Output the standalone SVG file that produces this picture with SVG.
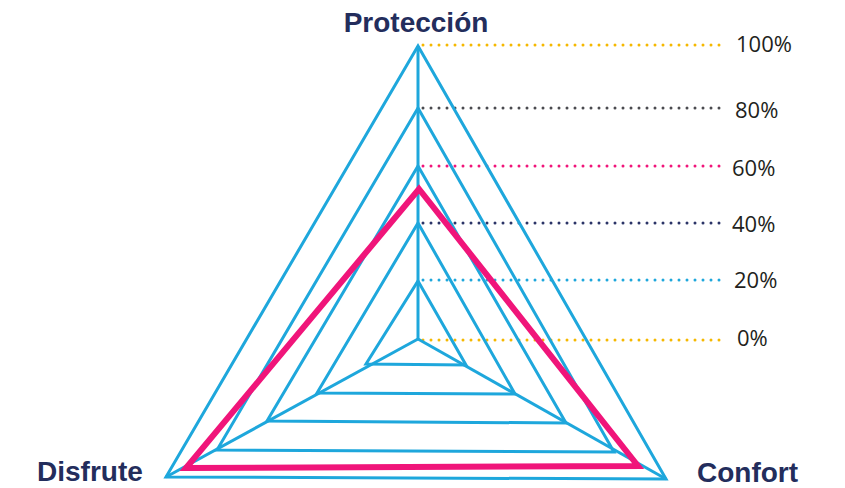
<svg xmlns="http://www.w3.org/2000/svg" width="845" height="488" viewBox="0 0 845 488">
<style>
.ring{fill:none;stroke:#1ea7dc;stroke-width:3;stroke-linejoin:miter}
.axis{fill:none;stroke:#1ea7dc;stroke-width:3}
.dot{fill:none;stroke-width:3;stroke-linecap:round;stroke-dasharray:0 8}
.pct{font-family:"Open Sans","Liberation Sans",sans-serif;font-size:22px;fill:#231f20}
.ttl{font-family:"Liberation Sans",Arial,sans-serif;font-weight:bold;font-size:28px;fill:#232d5c}
</style>
<rect width="845" height="488" fill="#ffffff"/>
<g id="gridlines">
<line class="dot" x1="423" y1="45" x2="727" y2="45" stroke="#f5b800"/>
<line class="dot" x1="423" y1="108" x2="724" y2="108" stroke="#4a4a4f"/>
<line class="dot" x1="423" y1="166" x2="726" y2="166" stroke="#f0157a"/>
<line class="dot" x1="423" y1="223" x2="726" y2="223" stroke="#2b3467"/>
<line class="dot" x1="423" y1="280" x2="726" y2="280" stroke="#1ea7dc"/>
<line class="dot" x1="423" y1="340" x2="727" y2="340" stroke="#f5b800"/>
</g>
<g id="rings">
<polygon class="ring" points="418,46 666,479 166,477"/>
<polygon class="ring" points="418,108 614,452 217,450"/>
<polygon class="ring" points="418,166 566,423 267,421"/>
<polygon class="ring" points="418,223 515,394 317,393"/>
<polygon class="ring" points="418,281 466,365 366,364"/>
</g>
<g id="axes">
<line class="axis" x1="418" y1="339" x2="418" y2="46"/>
<line class="axis" x1="418" y1="339" x2="166" y2="477"/>
<line class="axis" x1="418" y1="339" x2="666" y2="479"/>
</g>
<g id="data">
<polygon points="419,189 638,466 186,468" fill="none" stroke="#f0157a" stroke-width="6" stroke-linejoin="miter"/>
</g>
<g id="labels">
<text class="pct" x="736" y="52">100%</text>
<text class="pct" x="735" y="118">80%</text>
<text class="pct" x="732" y="176">60%</text>
<text class="pct" x="732" y="232">40%</text>
<text class="pct" x="734" y="288">20%</text>
<text class="pct" x="737" y="346">0%</text>
</g>
<g id="node-proteccion"><text class="ttl" x="416" y="32" text-anchor="middle">Protección</text></g>
<g id="node-disfrute"><text class="ttl" x="37" y="481">Disfrute</text></g>
<g id="node-confort"><text class="ttl" x="697" y="482">Confort</text></g>
</svg>
